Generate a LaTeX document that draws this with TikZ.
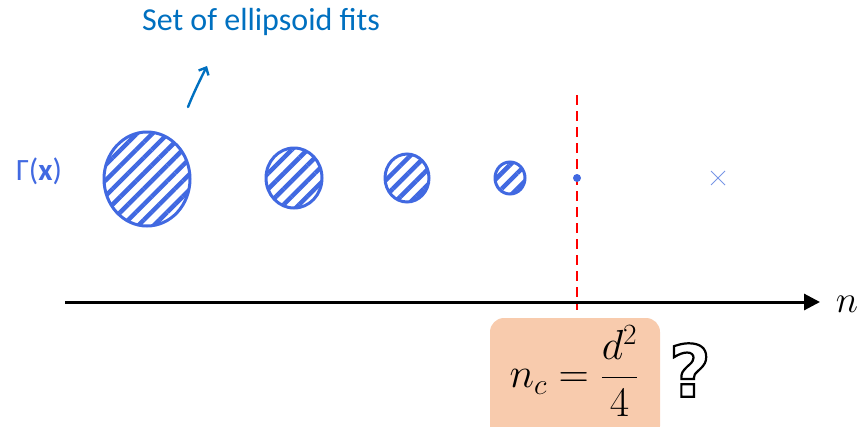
\documentclass[tikz,border=0pt]{standalone}
\usepackage{fix-cm}
\usepackage{amsmath}
\usepackage{fontspec}
\setmainfont{Carlito}
\newfontfamily\qfont{DejaVu Sans}
\usetikzlibrary{patterns.meta,arrows.meta}
\definecolor{titleblue}{RGB}{0,112,192}
\definecolor{fitblue}{RGB}{65,105,225}
\definecolor{crossblue}{RGB}{120,150,230}
\definecolor{peach}{RGB}{248,203,173}
\tikzset{
  fit/.style={draw=fitblue, line width=3pt,
    pattern={Lines[angle=45,distance=11pt,line width=4.5pt]}, pattern color=fitblue},
}
\begin{document}
\begin{tikzpicture}[x=1pt,y=-1pt]
\useasboundingbox (0,0) rectangle (858,426);
% title and arrow
\node[text=titleblue, font=\fontsize{32}{38}\selectfont] (title) at (261,22) {Set of ellipsoid fits};
\coordinate (arrS) at (188,107);
\coordinate (arrE) at (207,66);
\draw[titleblue, line width=2.4pt, line cap=round, -{Straight Barb[length=6pt,width=11pt]}] (arrS) .. controls (194,92) and (200,80) .. (arrE);
% Gamma label
\node[text=fitblue, font=\fontsize{31}{36}\selectfont] (gam) at (39,171) {Γ(\textbf{x})};
% ellipsoids
\draw[fit] (147,179) ellipse [x radius=43, y radius=47];
\draw[fit] (294,178) ellipse [x radius=28, y radius=30];
\draw[fit] (407,178) ellipse [x radius=22, y radius=24];
\draw[fit] (510,178) ellipse [x radius=15, y radius=16];
% red dashed line
\coordinate (rtop) at (577,95);
\coordinate (rbot) at (577,310);
\draw[red, line width=2.8pt, dash pattern=on 10pt off 6pt] (rtop) -- (rbot);
% dot
\fill[fitblue] (577,178) circle (4);
% cross
\draw[crossblue, line width=1pt] (711,171) -- (725,185) (711,185) -- (725,171);
% axis
\coordinate (axS) at (65,302);
\coordinate (axE) at (820,302);
\draw[line width=3pt, -{Triangle[length=16pt,width=16pt]}] (axS) -- (axE);
\node[font=\fontsize{38}{44}\selectfont] (nlab) at (847,304) {$n$};
% formula box
\fill[peach, rounded corners=14pt] (490,318) rectangle (660,440);
\node[font=\fontsize{42}{50}\selectfont] (form) at (574,371) {$n_c = \dfrac{d^2}{4}$};
% question mark
\node[font=\qfont\bfseries\fontsize{72}{80}\selectfont] (q) at (690,370) {\special{pdf:literal direct 1 Tr 2.2 w}?\special{pdf:literal direct 0 Tr}};
\end{tikzpicture}
\end{document}
